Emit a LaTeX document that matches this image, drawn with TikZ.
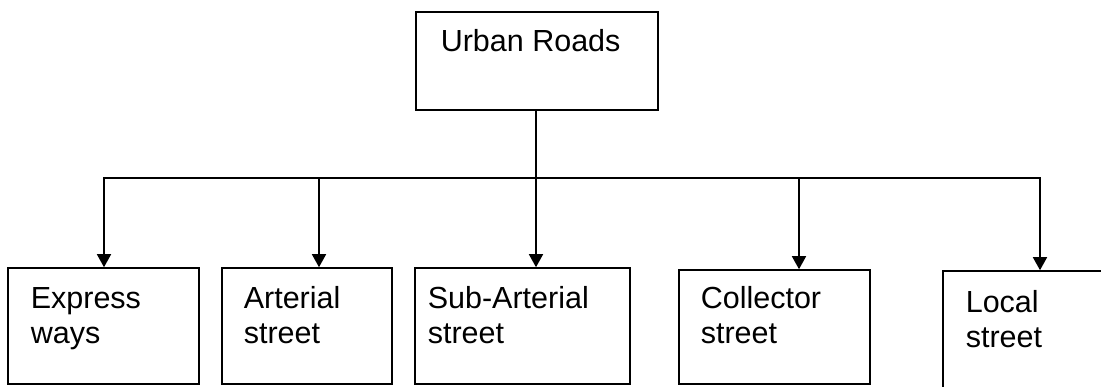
\documentclass[tikz,border=0pt]{standalone}
\usepackage{fontspec}
\setmainfont{Liberation Sans}
\usetikzlibrary{arrows.meta}
\begin{document}
\begin{tikzpicture}[x=1pt,y=1pt,
  line width=1.6pt, line join=miter,
  box/.style={draw, rectangle, inner sep=0pt},
  label/.style={anchor=base west, align=left, inner sep=0pt,
    font=\fontsize{30.5}{35}\selectfont},
  arr/.style={-{Triangle[length=13pt,width=14pt]}}]
\useasboundingbox (0,0) rectangle (1101,386);
\clip (0,0) rectangle (1101,386);

% root
\node[box, minimum width=242pt, minimum height=98pt] (root) at (537,325) {};
\node[label] (rootT) at (440,334) {Urban Roads};

% categories
\node[box, minimum width=191pt, minimum height=116pt] (ex) at (103.5,60) {};
\node[box, minimum width=170pt, minimum height=116pt] (ar) at (307,60) {};
\node[box, minimum width=215pt, minimum height=116pt] (sa) at (522.5,60) {};
\node[box, minimum width=191pt, minimum height=114pt] (co) at (774.5,59) {};
\node[box, minimum width=177pt, minimum height=135pt] (lo) at (1031.5,47.5) {};

% two-line labels, anchored on the baseline of their last line
\node[label] (exT) at (30,43) {Express\\ways};
\node[label] (arT) at (243,43) {Arterial\\street};
\node[label] (saT) at (427,43) {Sub-Arterial\\street};
\node[label] (coT) at (700,43) {Collector\\street};
\node[label] (loT) at (965,39) {Local\\street};

% distribution bus
\coordinate (b1) at (104,208);
\coordinate (b2) at (319,208);
\coordinate (b3) at (536,208);
\coordinate (b4) at (799,208);
\coordinate (b5) at (1040,208);

\draw (root.south -| b3) -- (b3);
\draw[arr] (b3) -| (b1 |- ex.north);
\draw[arr] (b3) -| (b5 |- lo.north);
\draw[arr] (b2) -- (b2 |- ar.north);
\draw[arr] (b3) -- (b3 |- sa.north);
\draw[arr] (b4) -- (b4 |- co.north);
\end{tikzpicture}
\end{document}
